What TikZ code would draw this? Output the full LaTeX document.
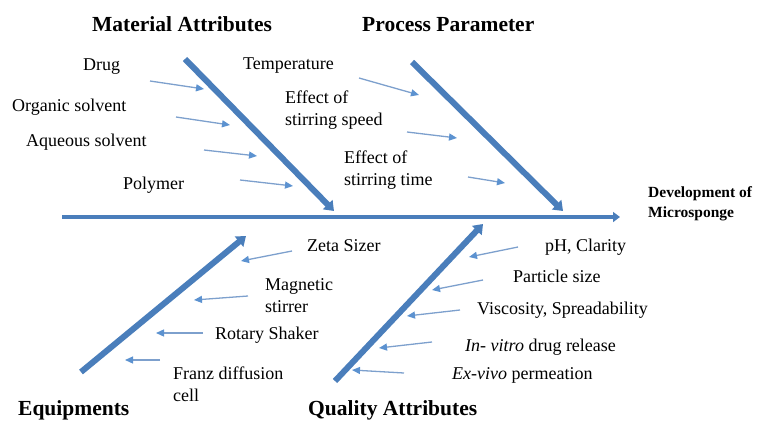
\documentclass[tikz,border=0pt]{standalone}
\usepackage{fontspec}
\setmainfont{Liberation Serif}
\usetikzlibrary{arrows.meta}
\definecolor{bone}{RGB}{74,126,187}
\definecolor{twig}{RGB}{125,160,205}
\definecolor{twighead}{RGB}{92,146,208}
\begin{document}
\begin{tikzpicture}[x=1pt,y=-1pt,
  item/.style={anchor=west,inner sep=0pt,font=\fontsize{18}{22}\selectfont,
    text height=12.6pt,text depth=4.5pt},
  itemtwo/.style={anchor=west,align=left,inner sep=0pt,font=\fontsize{18}{22}\selectfont},
  head/.style={anchor=west,inner sep=0pt,font=\fontsize{21.5}{24}\selectfont\bfseries,
    text height=15pt,text depth=5pt},
  goal/.style={anchor=west,align=left,inner sep=0pt,font=\fontsize{15.5}{20}\selectfont\bfseries},
  spine/.style={draw=bone,line width=4.5pt,-{Triangle[length=7pt,width=10pt]}},
  bonearrow/.style={draw=bone,line width=6pt,-{Triangle[length=9pt,width=13pt]}},
  twigarrow/.style={draw=twig,line width=1.3pt,-{Triangle[length=8pt,width=7pt,fill=twighead,color=twighead]}}]
\useasboundingbox (0,0) rectangle (773,423);

% main axis and effect label
\coordinate (s0) at (62,217);
\coordinate (s1) at (620,217);
\draw[spine] (s0) -- (s1);
\node[goal] (goal) at (648,204) {Development of\\Microsponge};

% category titles
\node[head] (mat) at (92,26) {Material Attributes};
\node[head] (proc) at (362,26) {Process Parameter};
\node[head] (equip) at (18,410) {Equipments};
\node[head] (qual) at (308,410) {Quality Attributes};

% main bones
\coordinate (m0) at (185,59);  \coordinate (m1) at (334,211);
\coordinate (p0) at (412,62);  \coordinate (p1) at (563,211);
\coordinate (e0) at (81,372);  \coordinate (e1) at (246,236);
\coordinate (q0) at (335,381); \coordinate (q1) at (483,224);
\draw[bonearrow] (m0) -- (m1);
\draw[bonearrow] (p0) -- (p1);
\draw[bonearrow] (e0) -- (e1);
\draw[bonearrow] (q0) -- (q1);

% material attributes
\node[item] (drug) at (83,66) {Drug};
\node[item] (org) at (12,107) {Organic solvent};
\node[item] (aq) at (26,142) {Aqueous solvent};
\node[item] (poly) at (123,185) {Polymer};
\coordinate (d0) at (150,81);  \coordinate (d1) at (204,89);
\coordinate (o0) at (176,117); \coordinate (o1) at (230,125);
\coordinate (a0) at (204,150); \coordinate (a1) at (257,156);
\coordinate (y0) at (240,180); \coordinate (y1) at (293,186);
\draw[twigarrow] (d0) -- (d1);
\draw[twigarrow] (o0) -- (o1);
\draw[twigarrow] (a0) -- (a1);
\draw[twigarrow] (y0) -- (y1);

% process parameters
\node[item] (temp) at (243,65) {Temperature};
\node[itemtwo] (speed) at (285,110) {Effect of\\stirring speed};
\node[itemtwo] (time) at (344,170) {Effect of\\stirring time};
\coordinate (t0) at (359,78);  \coordinate (t1) at (419,95);
\coordinate (v0) at (407,132); \coordinate (v1) at (457,138);
\coordinate (w0) at (468,177); \coordinate (w1) at (505,183);
\draw[twigarrow] (t0) -- (t1);
\draw[twigarrow] (v0) -- (v1);
\draw[twigarrow] (w0) -- (w1);

% equipments
\node[item] (zeta) at (307,247) {Zeta Sizer};
\node[itemtwo] (magn) at (265,296) {Magnetic\\stirrer};
\node[item] (rot) at (215,335) {Rotary Shaker};
\node[itemtwo] (franz) at (173,384) {Franz diffusion\\cell};
\coordinate (z0) at (292,251); \coordinate (z1) at (241,261);
\coordinate (g0) at (248,296); \coordinate (g1) at (194,300);
\coordinate (r0) at (203,333); \coordinate (r1) at (156,333);
\coordinate (f0) at (160,360); \coordinate (f1) at (125,360);
\draw[twigarrow] (z0) -- (z1);
\draw[twigarrow] (g0) -- (g1);
\draw[twigarrow] (r0) -- (r1);
\draw[twigarrow] (f0) -- (f1);

% quality attributes
\node[item] (ph) at (545,247) {pH, Clarity};
\node[item] (part) at (513,278) {Particle size};
\node[item] (visc) at (477,310) {Viscosity, Spreadability};
\node[item] (vitro) at (465,347) {\textit{In- vitro} drug release};
\node[item] (vivo) at (452,375) {\textit{Ex-vivo} permeation};
\coordinate (h0) at (518,247); \coordinate (h1) at (469,257);
\coordinate (c0) at (483,280); \coordinate (c1) at (432,290);
\coordinate (k0) at (460,310); \coordinate (k1) at (407,316);
\coordinate (i0) at (432,342); \coordinate (i1) at (379,348);
\coordinate (x0) at (404,373); \coordinate (x1) at (352,370);
\draw[twigarrow] (h0) -- (h1);
\draw[twigarrow] (c0) -- (c1);
\draw[twigarrow] (k0) -- (k1);
\draw[twigarrow] (i0) -- (i1);
\draw[twigarrow] (x0) -- (x1);
\end{tikzpicture}
\end{document}
